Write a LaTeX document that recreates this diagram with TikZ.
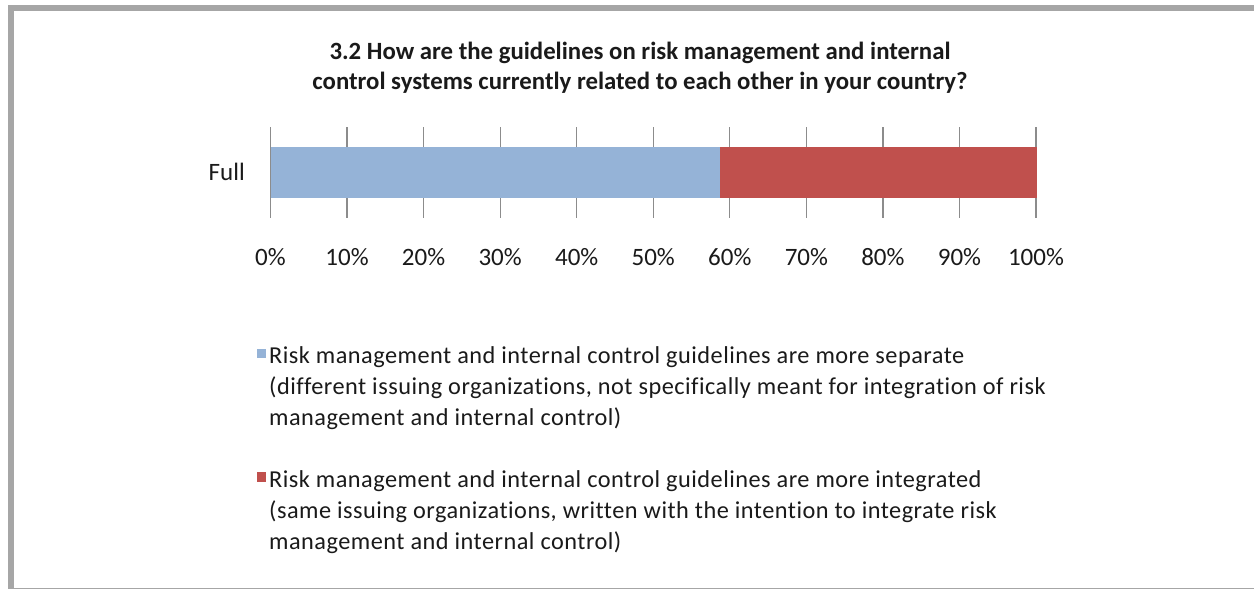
\documentclass[tikz,border=0pt]{standalone}
\usepackage{fontspec}
\setmainfont[Ligatures=NoCommon]{Carlito}
\newfontfamily\legfont[Ligatures=NoCommon,LetterSpace=2.0]{Carlito}
\definecolor{sepblue}{HTML}{95B3D7}
\definecolor{intred}{HTML}{C0504D}
\definecolor{framegray}{HTML}{A6A6A6}
\definecolor{gridgray}{HTML}{8C8C8C}
\definecolor{txt}{HTML}{1A1A1A}
\tikzset{
  lbl/.style={inner sep=0pt, text=txt, font=\fontsize{25}{31}\selectfont},
  ttl/.style={inner sep=0pt, text=txt, align=center, font=\fontsize{24.8}{29.5}\selectfont\bfseries},
  legtext/.style={inner sep=0pt, text=txt, align=left, anchor=base west, font=\legfont\fontsize{24.3}{31}\selectfont},
  grid line/.style={draw=gridgray, line width=1.2pt},
  marker/.style={inner sep=0pt, minimum size=9.5pt, anchor=center}
}
\begin{document}
\begin{tikzpicture}[x=1pt,y=-1pt]
\useasboundingbox (0,0) rectangle (1254,589);
\clip (0,0) rectangle (1254,589);
\fill[white] (0,0) rectangle (1254,589);
\draw[framegray, line width=6pt] (11,8) rectangle (1270,591);
% title (base anchor = last line)
\node[ttl, anchor=base] (title) at (640,89) {3.2 How are the guidelines on risk management and internal\\control systems currently related to each other in your country?};
% gridlines
\foreach \i in {0,...,10} {
  \coordinate (gt\i) at ({270.5+76.55*\i},127);
  \coordinate (gb\i) at ({270.5+76.55*\i},218);
  \draw[grid line] (gt\i) -- (gb\i);
  \node[lbl, anchor=base] (ax\i) at ({270.5+76.55*\i},265) {\the\numexpr\i*10\relax\%};
}
% bars
\node[fill=sepblue, inner sep=0pt, anchor=north west, minimum width={7.655*58.7 pt}, minimum height=51pt] (blue) at (270.5,147) {};
\node[fill=intred, inner sep=0pt, anchor=north west, minimum width={7.655*41.3 pt}, minimum height=51pt] (red) at (blue.north east) {};
\node[lbl, anchor=base east] (cat) at (245,180) {Full};
% legend
\node[marker, fill=sepblue] (m1) at (261.5,353.5) {};
\node[legtext] (l1) at (269,425) {Risk management and internal control guidelines are more separate\\(different issuing organizations, not specifically meant for integration of risk\\management and internal control)};
\node[marker, fill=intred] (m2) at (261.5,477) {};
\node[legtext] (l2) at (269,549) {Risk management and internal control guidelines are more integrated\\(same issuing organizations, written with the intention to integrate risk\\management and internal control)};
\end{tikzpicture}
\end{document}
